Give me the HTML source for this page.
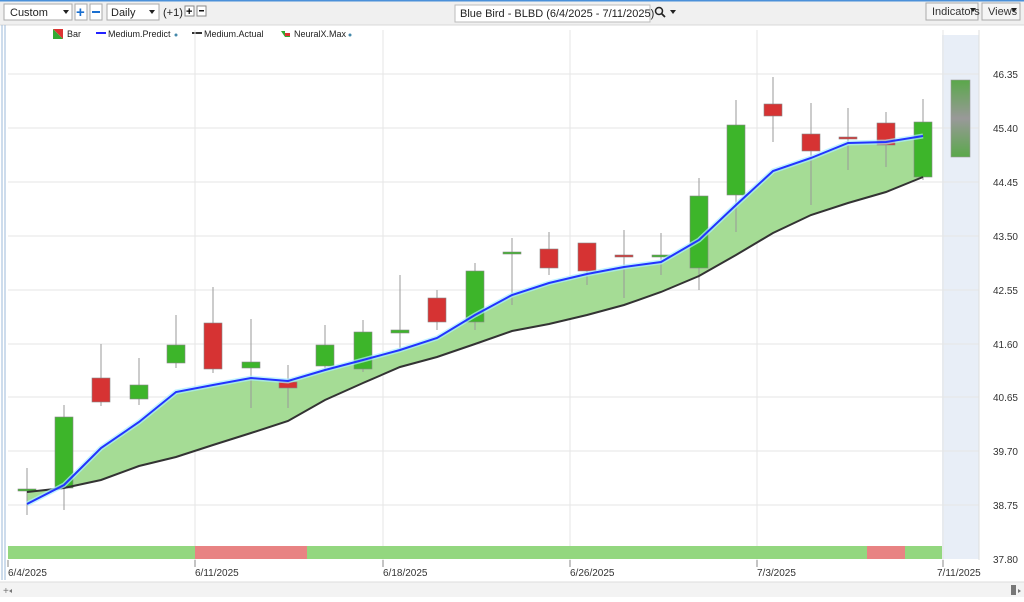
<!DOCTYPE html>
<html><head><style>
body{margin:0;width:1024px;height:597px;overflow:hidden;background:#fff;font-family:"Liberation Sans",sans-serif;}
</style></head><body>
<svg width="1024" height="597" xmlns="http://www.w3.org/2000/svg" font-family="Liberation Sans, sans-serif">
<rect x="0" y="0" width="1024" height="597" fill="#fff"/>
<rect x="0" y="0" width="1024" height="25" fill="#f0f0f0"/>
<line x1="0" y1="0.5" x2="1024" y2="0.5" stroke="#4a90d9" stroke-width="2"/>
<line x1="0" y1="25" x2="1024" y2="25" stroke="#d8d8d8"/>
<!-- toolbar -->
<rect x="4" y="4" width="68" height="16" fill="#fff" stroke="#aaa"/><text x="10" y="16" font-size="11" fill="#222">Custom</text><path d="M63 10h6l-3 4z" fill="#222"/>
<rect x="75" y="4" width="12" height="16" fill="#fff" stroke="#aaa"/><text x="76" y="17" font-size="15" font-weight="bold" fill="#1a6fd0">+</text>
<rect x="90" y="4" width="12" height="16" fill="#fff" stroke="#aaa"/><rect x="92" y="11" width="8" height="2" fill="#1a6fd0"/>
<rect x="107" y="4" width="52" height="16" fill="#fff" stroke="#aaa"/><text x="111" y="16" font-size="11" fill="#222">Daily</text><path d="M149 10h6l-3 4z" fill="#222"/>
<text x="163" y="16" font-size="11" fill="#222">(+1)</text>
<rect x="185" y="6" width="9" height="10" fill="#fff" stroke="#888"/><text x="186" y="15" font-size="11" font-weight="bold">+</text>
<rect x="197" y="6" width="9" height="10" fill="#fff" stroke="#888"/><rect x="199" y="10" width="5" height="1.5" fill="#111"/>
<rect x="455" y="5" width="195" height="17" fill="#fff" stroke="#bbb"/><text x="460" y="17" font-size="11" fill="#222">Blue Bird - BLBD (6/4/2025 - 7/11/2025)</text>
<circle cx="659" cy="11" r="3.5" fill="none" stroke="#222" stroke-width="1.5"/><line x1="661.5" y1="13.5" x2="665" y2="17" stroke="#222" stroke-width="1.8"/><path d="M670 10h6l-3 4z" fill="#222"/>
<rect x="926" y="3" width="52" height="17" fill="#f5f5f5" stroke="#aaa"/><text x="932" y="15" font-size="11" fill="#333">Indicators</text><path d="M970 8h6l-3 4z" fill="#222"/>
<rect x="982" y="3" width="38" height="17" fill="#f5f5f5" stroke="#aaa"/><text x="988" y="15" font-size="11" fill="#333">Views</text><path d="M1011 8h6l-3 4z" fill="#222"/>
<!-- left border -->
<line x1="2" y1="25" x2="2" y2="580" stroke="#9bb8d8"/><line x1="5" y1="25" x2="5" y2="580" stroke="#9bb8d8"/>
<!-- legend -->
<path d="M53 29h10v10z" fill="#d33"/><path d="M53 29v10h10z" fill="#3a3"/><text x="67" y="37" font-size="9" fill="#222">Bar</text>
<line x1="96" y1="33" x2="106" y2="33" stroke="#22f" stroke-width="2"/><text x="108" y="37" font-size="9" fill="#222">Medium.Predict</text><circle cx="176" cy="35" r="1.5" fill="#48a"/>
<line x1="192" y1="33" x2="202" y2="33" stroke="#333" stroke-width="2"/><text x="204" y="37" font-size="9" fill="#222">Medium.Actual</text>
<path d="M281 31h4v3h5v3h-5z" fill="#3a3"/><path d="M285 33h5v3h-5z" fill="#d33"/><text x="294" y="37" font-size="9" fill="#222">NeuralX.Max</text><circle cx="350" cy="35" r="1.5" fill="#48a"/>
<!-- forecast area -->
<rect x="942" y="35" width="37" height="524" fill="#e8eef7"/>
<!-- grid -->
<g stroke="#e6e6e6" stroke-width="1">
<line x1="8" y1="74" x2="979" y2="74"/><line x1="8" y1="128" x2="979" y2="128"/><line x1="8" y1="182" x2="979" y2="182"/><line x1="8" y1="236" x2="979" y2="236"/><line x1="8" y1="290" x2="979" y2="290"/><line x1="8" y1="344" x2="979" y2="344"/><line x1="8" y1="397" x2="979" y2="397"/><line x1="8" y1="451" x2="979" y2="451"/><line x1="8" y1="505" x2="979" y2="505"/>
<line x1="195" y1="30" x2="195" y2="565"/><line x1="383" y1="30" x2="383" y2="565"/><line x1="570" y1="30" x2="570" y2="565"/><line x1="757" y1="30" x2="757" y2="565"/><line x1="943" y1="30" x2="943" y2="565"/>
</g>
<line x1="979" y1="30" x2="979" y2="560" stroke="#ddd"/>
<!-- fill between -->
<polygon fill="#a5dc95" points="27,504 64,485 101,448 139,422 176,392 213,385 251,378 288,381 325,370 363,360 400,350 437,338 475,315 512,295 549,283 587,274 624,267 661,262 699,240 736,205 773,171 811,158 848,143 886,142 923,136 923,177 886,192 848,203 811,215 773,233 736,255 699,276 661,292 624,305 587,315 549,324 512,331 475,344 437,357 400,367 363,383 325,400 288,421 251,433 213,445 176,457 139,466 101,480 64,488 27,492"/>
<!-- wicks -->
<g stroke="#999" stroke-width="1">
<line x1="27" y1="468" x2="27" y2="515"/><line x1="64" y1="405" x2="64" y2="510"/><line x1="101" y1="344" x2="101" y2="406"/><line x1="139" y1="358" x2="139" y2="405"/><line x1="176" y1="315" x2="176" y2="368"/><line x1="213" y1="287" x2="213" y2="373"/><line x1="251" y1="319" x2="251" y2="408"/><line x1="288" y1="365" x2="288" y2="408"/><line x1="325" y1="325" x2="325" y2="370"/><line x1="363" y1="320" x2="363" y2="372"/><line x1="400" y1="275" x2="400" y2="350"/><line x1="437" y1="290" x2="437" y2="330"/><line x1="475" y1="263" x2="475" y2="330"/><line x1="512" y1="238" x2="512" y2="305"/><line x1="549" y1="232" x2="549" y2="275"/><line x1="587" y1="243" x2="587" y2="285"/><line x1="624" y1="230" x2="624" y2="298"/><line x1="661" y1="233" x2="661" y2="275"/><line x1="699" y1="178" x2="699" y2="290"/><line x1="736" y1="100" x2="736" y2="232"/><line x1="773" y1="77" x2="773" y2="142"/><line x1="811" y1="103" x2="811" y2="205"/><line x1="848" y1="108" x2="848" y2="170"/><line x1="886" y1="112" x2="886" y2="167"/><line x1="923" y1="99" x2="923" y2="180"/>
</g>
<!-- bodies -->
<g stroke="#888" stroke-width="0.6">
<rect x="18" y="489" width="18" height="2" fill="#3db52a"/>
<rect x="55" y="417" width="18" height="71" fill="#3db52a"/>
<rect x="92" y="378" width="18" height="24" fill="#d63333"/>
<rect x="130" y="385" width="18" height="14" fill="#3db52a"/>
<rect x="167" y="345" width="18" height="18" fill="#3db52a"/>
<rect x="204" y="323" width="18" height="46" fill="#d63333"/>
<rect x="242" y="362" width="18" height="6" fill="#3db52a"/>
<rect x="279" y="382" width="18" height="6" fill="#d63333"/>
<rect x="316" y="345" width="18" height="21" fill="#3db52a"/>
<rect x="354" y="332" width="18" height="37" fill="#3db52a"/>
<rect x="391" y="330" width="18" height="3" fill="#3db52a"/>
<rect x="428" y="298" width="18" height="24" fill="#d63333"/>
<rect x="466" y="271" width="18" height="51" fill="#3db52a"/>
<rect x="503" y="252" width="18" height="2" fill="#3db52a"/>
<rect x="540" y="249" width="18" height="19" fill="#d63333"/>
<rect x="578" y="243" width="18" height="28" fill="#d63333"/>
<rect x="615" y="255" width="18" height="2" fill="#d63333"/>
<rect x="652" y="255" width="18" height="2" fill="#3db52a"/>
<rect x="690" y="196" width="18" height="72" fill="#3db52a"/>
<rect x="727" y="125" width="18" height="70" fill="#3db52a"/>
<rect x="764" y="104" width="18" height="12" fill="#d63333"/>
<rect x="802" y="134" width="18" height="17" fill="#d63333"/>
<rect x="839" y="137" width="18" height="2" fill="#d63333"/>
<rect x="877" y="123" width="18" height="22" fill="#d63333"/>
<rect x="914" y="122" width="18" height="55" fill="#3db52a"/>
</g>
<defs><linearGradient id="fg" x1="0" y1="0" x2="0" y2="1"><stop offset="0" stop-color="#5aa84a"/><stop offset="0.5" stop-color="#999"/><stop offset="1" stop-color="#5aa84a"/></linearGradient></defs>
<rect x="951" y="80" width="19" height="77" fill="url(#fg)" stroke="#999" stroke-width="0.6"/>
<!-- lines -->
<polyline fill="none" stroke="#333" stroke-width="2" points="27,492 64,488 101,480 139,466 176,457 213,445 251,433 288,421 325,400 363,383 400,367 437,357 475,344 512,331 549,324 587,315 624,305 661,292 699,276 736,255 773,233 811,215 848,203 886,192 923,177"/>
<polyline fill="none" stroke="#aef" stroke-width="5" opacity="0.7" points="27,504 64,485 101,448 139,422 176,392 213,385 251,378 288,381 325,370 363,360 400,350 437,338 475,315 512,295 549,283 587,274 624,267 661,262 699,240 736,205 773,171 811,158 848,143 886,142 923,136"/>
<polyline fill="none" stroke="#2233ff" stroke-width="2" points="27,504 64,485 101,448 139,422 176,392 213,385 251,378 288,381 325,370 363,360 400,350 437,338 475,315 512,295 549,283 587,274 624,267 661,262 699,240 736,205 773,171 811,158 848,143 886,142 923,136"/>
<!-- signal bar -->
<rect x="8" y="546" width="187" height="13" fill="#93d77f"/>
<rect x="195" y="546" width="112" height="13" fill="#e88383"/>
<rect x="307" y="546" width="560" height="13" fill="#93d77f"/>
<rect x="867" y="546" width="38" height="13" fill="#e88383"/>
<rect x="905" y="546" width="37" height="13" fill="#93d77f"/>
<!-- ticks -->
<g stroke="#888">
<line x1="8" y1="560" x2="8" y2="567"/><line x1="195" y1="560" x2="195" y2="567"/><line x1="383" y1="560" x2="383" y2="567"/><line x1="570" y1="560" x2="570" y2="567"/><line x1="757" y1="560" x2="757" y2="567"/><line x1="943" y1="560" x2="943" y2="567"/>
</g>
<g font-size="10" fill="#333">
<text x="8" y="576">6/4/2025</text><text x="195" y="576">6/11/2025</text><text x="383" y="576">6/18/2025</text><text x="570" y="576">6/26/2025</text><text x="757" y="576">7/3/2025</text><text x="937" y="576">7/11/2025</text>
</g>
<g font-size="10" fill="#333" text-anchor="end">
<text x="1018" y="78">46.35</text><text x="1018" y="132">45.40</text><text x="1018" y="186">44.45</text><text x="1018" y="240">43.50</text><text x="1018" y="294">42.55</text><text x="1018" y="348">41.60</text><text x="1018" y="401">40.65</text><text x="1018" y="455">39.70</text><text x="1018" y="509">38.75</text><text x="1018" y="563">37.80</text>
</g>
<!-- scrollbar -->
<rect x="0" y="582" width="1024" height="15" fill="#f3f3f3"/><line x1="0" y1="582" x2="1024" y2="582" stroke="#ddd"/>
<text x="3" y="594" font-size="10" fill="#777">+</text><path d="M12 589l-3 2 3 2z" fill="#777"/>
<rect x="1011" y="585" width="5" height="10" fill="#777"/><path d="M1018 589l3 2-3 2z" fill="#777"/>
</svg>
</body></html>
